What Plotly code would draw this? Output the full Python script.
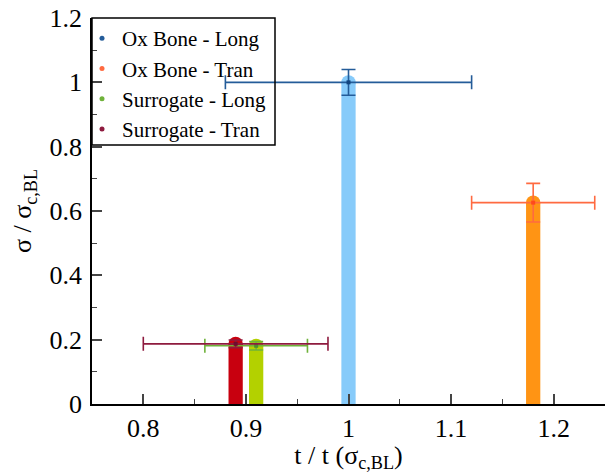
import plotly.graph_objects as go

categories = ["Ox Bone - Long", "Ox Bone - Tran", "Surrogate - Long", "Surrogate - Tran"]
t_ratio = [1.0, 1.18, 0.91, 0.89]
sigma_ratio = [1.0, 0.626, 0.181, 0.187]
t_err = [0.12, 0.06, 0.05, 0.09]
sigma_err = [0.04, 0.06, 0.013, 0.012]

bar_colors = ["#87CBFA", "#FF9414", "#B3D100", "#C8000F"]
err_colors = ["#245C99", "#FF6A40", "#6FB23A", "#8E1A3E"]
dark_colors = ["#12457F", "#FF4A1A", "#4E8F2A", "#6E0E2C"]

FONT = "Liberation Serif"
BAR_W = 0.0139

fig = go.Figure()

# bars
for i in range(len(categories)):
    fig.add_trace(go.Bar(
        x=[t_ratio[i]], y=[sigma_ratio[i]], width=BAR_W,
        marker=dict(color=bar_colors[i], line=dict(width=0)),
        showlegend=False, hoverinfo="skip"))
    fig.add_trace(go.Scatter(
        x=[t_ratio[i]], y=[sigma_ratio[i]], mode="markers",
        marker=dict(size=14.3, color=bar_colors[i], line=dict(width=0)),
        showlegend=False, hoverinfo="skip"))

# error bars
for i in [0, 1, 2, 3]:
    fig.add_trace(go.Scatter(
        x=[t_ratio[i]], y=[sigma_ratio[i]], mode="markers",
        marker=dict(size=4, symbol="square", color=dark_colors[i]),
        error_x=dict(type="constant", value=t_err[i], color=err_colors[i], thickness=1.6, width=7),
        error_y=dict(type="constant", value=sigma_err[i], color=err_colors[i], thickness=1.6, width=7),
        showlegend=False))

# legend entries
for i in range(len(categories)):
    fig.add_trace(go.Scatter(
        x=[None], y=[None], mode="markers", name=categories[i],
        marker=dict(size=5, color=err_colors[i])))

fig.update_layout(
    width=605, height=473,
    margin=dict(l=92, r=0, t=18, b=69),
    plot_bgcolor="white", paper_bgcolor="white",
    font=dict(family=FONT, color="black", size=26),
    barmode="overlay",
    legend=dict(x=-10 / 513, y=1, xanchor="left", yanchor="top",
                bgcolor="rgba(0,0,0,0)", borderwidth=0,
                font=dict(size=21, family=FONT), itemwidth=30, tracegroupgap=0),
    shapes=[dict(type="rect", xref="paper", yref="paper",
                 x0=0, x1=(275 - 92) / 513, y0=(404 - 145) / 386, y1=1,
                 line=dict(color="black", width=1.5), fillcolor="rgba(0,0,0,0)")],
    xaxis=dict(range=[0.75, 1.25], tick0=0.8, dtick=0.1, ticks="inside", ticklen=10,
               tickwidth=1.5, showline=True, linewidth=1.8, linecolor="black",
               showgrid=False, zeroline=False, ticklabelstandoff=0,
               minor=dict(dtick=0.05, ticks="inside", ticklen=5, tickwidth=1.2, showgrid=False),
               title=dict(text="t / t (σ<sub>c,BL</sub>)", standoff=6, font=dict(size=26))),
    yaxis=dict(range=[0, 1.2], dtick=0.2, ticks="inside", ticklen=10,
               tickwidth=1.5, showline=True, linewidth=1.8, linecolor="black",
               showgrid=False, zeroline=False, ticklabelstandoff=3,
               minor=dict(dtick=0.1, ticks="inside", ticklen=5, tickwidth=1.2, showgrid=False),
               title=dict(text="σ / σ<sub>c,BL</sub>", standoff=10, font=dict(size=26))),
)

fig.write_html("out.html", config={"displayModeBar": False},
               post_script="document.body.style.margin='0';")
